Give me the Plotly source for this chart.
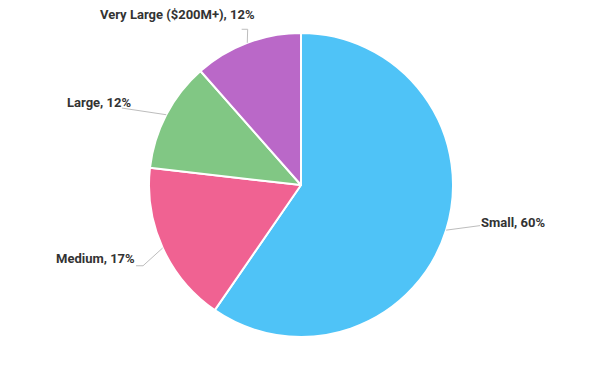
import math
import plotly.graph_objects as go

# ---- data ----
categories = ["Small", "Medium", "Large", "Very Large ($200M+)"]
values = [59.6, 17.2, 11.7, 11.5]
colors = ["#4FC3F7", "#F06292", "#81C784", "#BA68C8"]

# ---- layout constants (pixels, page coordinates) ----
W, H = 600, 367
OFF = 8  # default page body margin
CX, CY, R = 301 - OFF, 185 - OFF, 152
# label leader tweaks per slice
label_shift = [-4.5, -2.6, -4.3, 1.8]     # degrees relative to slice middle
label_radius = [183.6, 177.4, 195, 164.6]  # px from centre to leader bend
label_elbow = [0, -7, 0, -6]               # horizontal tail of leader, px
text_dx = [1, -1, 9.3, 13.3]               # text anchor offset from leader end
text_dy = [-3.5, -7, -5.5, -14.8]

fig = go.Figure(go.Pie(
    labels=categories,
    values=values,
    sort=False,
    direction="clockwise",
    rotation=0,
    marker=dict(colors=colors, line=dict(color="white", width=2)),
    textinfo="none",
    hoverinfo="label+percent",
    domain=dict(x=[(CX - R) / W, (CX + R) / W],
                y=[(H - CY - R) / H, (H - CY + R) / H]),
    showlegend=False,
))

def px2paper(x, y):
    return x / W, 1 - y / H

total = sum(values)
cum = 0.0
shapes = []
annotations = []
for i, (cat, v) in enumerate(zip(categories, values)):
    mid = (cum + v / 2) / total * 360.0
    cum += v
    a = math.radians(mid)
    ex, ey = CX + R * math.sin(a), CY - R * math.cos(a)
    b = math.radians(mid + label_shift[i])
    lx, ly = CX + label_radius[i] * math.sin(b), CY - label_radius[i] * math.cos(b)
    right = math.sin(b) > 0
    fx, fy = lx + label_elbow[i], ly
    p0 = px2paper(ex, ey)
    p1 = px2paper(lx, ly)
    p2 = px2paper(fx, fy)
    shapes.append(dict(type="path", xref="paper", yref="paper",
                       path=f"M {p0[0]},{p0[1]} L {p1[0]},{p1[1]} L {p2[0]},{p2[1]}",
                       line=dict(color="#BDBDBD", width=1)))
    pct = round(v / total * 100)
    tx, ty = px2paper(fx + text_dx[i], fy + text_dy[i])
    annotations.append(dict(
        x=tx, y=ty, xref="paper", yref="paper",
        text=f"{cat}, {pct}%", showarrow=False,
        xanchor="left" if right else "right", yanchor="middle",
        borderpad=0, borderwidth=0,
        font=dict(family="Roboto", size=13, color="#333333", weight="bold"),
    ))

fig.update_layout(
    width=W, height=H,
    margin=dict(l=0, r=0, t=0, b=0),
    paper_bgcolor="white", plot_bgcolor="white",
    shapes=shapes, annotations=annotations,
)

fig.write_html("out.html")
